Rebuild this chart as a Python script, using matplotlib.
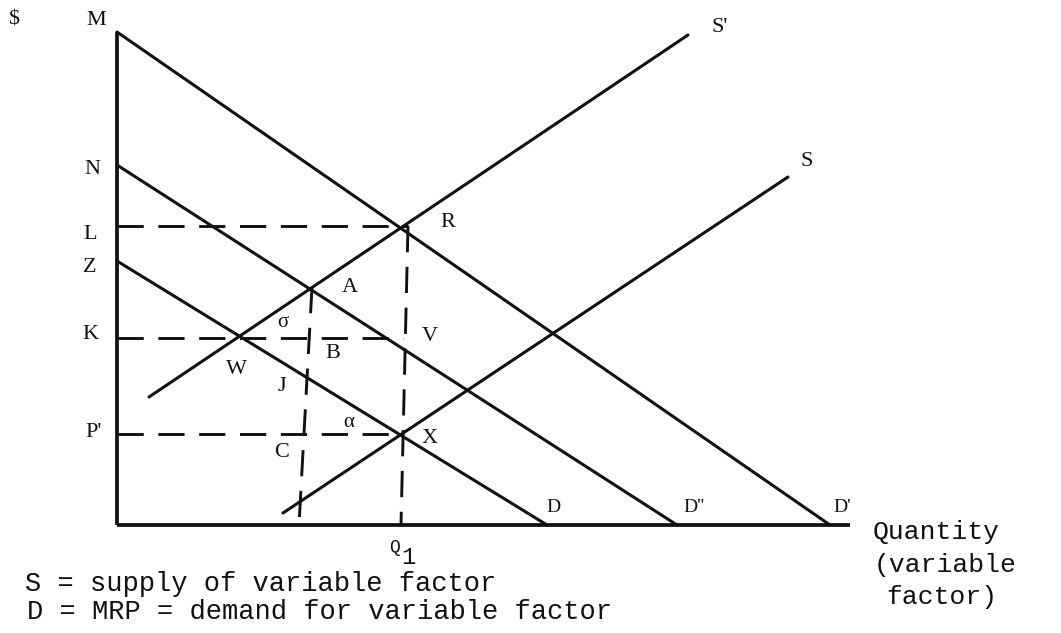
import matplotlib
matplotlib.use("Agg")
import matplotlib.pyplot as plt

# Curves (quantity, price) in arbitrary units, origin at the axes corner
d_prime_q = [0.0, 71.3]
d_prime_p = [49.3, 0.0]
d_dbl_q = [0.0, 56.0]
d_dbl_p = [36.0, 0.0]
d_q = [0.0, 43.0]
d_p = [26.4, 0.0]
s_prime_q = [3.2, 57.1]
s_prime_p = [12.8, 49.0]
s_q = [16.6, 67.1]
s_p = [1.2, 34.8]

# Price levels and the points where the dashed guides stop
price_L = 29.9
price_K = 18.7
price_P = 9.1
point_R = (29.1, 29.9)
point_V = (28.6, 18.7)
point_X = (28.5, 9.1)
point_A = (19.5, 23.8)
q1_foot = 28.4
a_foot = 18.2

# axis extents
y_top = 49.3
x_end = 73.3

fig = plt.figure(figsize=(10.61, 6.33), dpi=100)
ax = fig.add_axes([0, 0, 1, 1])
ax.set_xlim(-11.7, 94.4)
ax.set_ylim(-10.8, 52.5)
ax.axis("off")

ink = "#111111"
lw = 2.2

# axes
ax.plot([0, 0], [0, y_top], color=ink, lw=2.7, solid_capstyle="butt")
ax.plot([0, x_end], [0, 0], color=ink, lw=2.7, solid_capstyle="butt")

# demand and supply curves
for qs, ps in [(d_prime_q, d_prime_p), (d_dbl_q, d_dbl_p), (d_q, d_p),
               (s_prime_q, s_prime_p), (s_q, s_p)]:
    ax.plot(qs, ps, color=ink, lw=lw, solid_capstyle="round")

# dashed guides
dash = dict(color=ink, lw=2.1, dashes=(9, 5))
ax.plot([0, point_R[0]], [price_L, price_L], **dash)
ax.plot([0, point_V[0]], [price_K, price_K], **dash)
ax.plot([0, point_X[0]], [price_P, price_P], **dash)
ax.plot([point_R[0], q1_foot], [point_R[1], 0], **dash)
ax.plot([point_A[0], a_foot], [point_A[1], 0], **dash)


def px(x, y):
    # convert a picture position to data units
    return (x - 117) / 10.0, (525 - y) / 10.0


serif = dict(family="Liberation Serif", color=ink, ha="center", va="center")
labels = [
    ("$", 14, 20, 16), ("M", 96, 21, 16), ("N", 92, 170, 16),
    ("L", 90, 235, 16), ("Z", 90, 268, 16), ("K", 90, 335, 16),
    ("P'", 94, 433, 16), ("A", 350, 288, 16), ("σ", 283, 323, 15),
    ("B", 333, 354, 16), ("V", 430, 337, 16), ("W", 236, 370, 16),
    ("J", 282, 387, 16), ("α", 349, 423, 15), ("X", 430, 439, 16),
    ("C", 282, 453, 16), ("R", 448, 223, 16), ("S'", 720, 28, 16),
    ("S", 807, 162, 16), ("D", 553, 508, 14), ("D''", 694, 508, 14),
    ("D'", 842, 508, 14),
]
for txt, x, y, fs in labels:
    ax.text(*px(x, y), txt, fontsize=fs, **serif)

mono = dict(family="Liberation Mono", color=ink)
ax.text(*px(394, 548), "Q", fontsize=13, ha="center", va="center", **mono)
ax.text(*px(408, 557), "1", fontsize=17, ha="center", va="center", **mono)

ax.text(*px(936, 532), "Quantity", fontsize=19, ha="center", va="center", **mono)
ax.text(*px(945, 565), "(variable", fontsize=19, ha="center", va="center", **mono)
ax.text(*px(942, 597), "factor)", fontsize=19, ha="center", va="center", **mono)

ax.text(*px(25, 591), "S = supply of variable factor", fontsize=19.5,
        ha="left", va="baseline", **mono)
ax.text(*px(27, 619), "D = MRP = demand for variable factor", fontsize=19.5,
        ha="left", va="baseline", **mono)

fig.savefig("out.png", dpi=100, facecolor="white")
